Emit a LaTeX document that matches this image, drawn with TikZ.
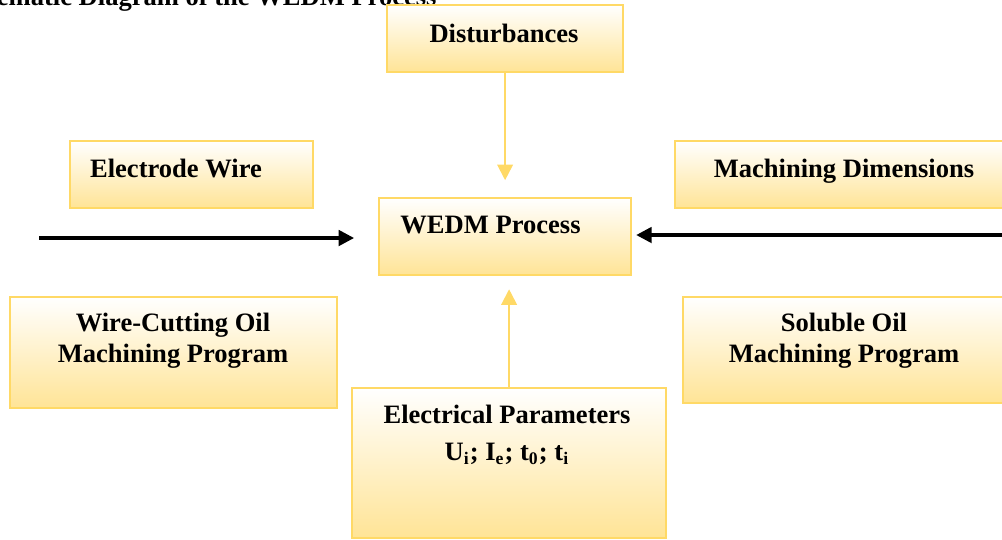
\documentclass[tikz,border=0pt]{standalone}
\usepackage{fontspec}
\setmainfont{Liberation Serif}
\usetikzlibrary{arrows.meta}
\definecolor{boxline}{RGB}{255,217,102}
\definecolor{boxfill}{RGB}{255,228,150}

\begin{document}
\begin{tikzpicture}[x=0.452pt, y=-0.452pt,
        box/.style={draw=boxline, line width=1pt, top color=white, bottom color=boxfill, anchor=north west, inner sep=0pt},
        txt/.style={font=\fontsize{12}{14}\selectfont\bfseries, align=center, inner sep=0pt},
        feed/.style={-{Triangle[length=7pt,width=7pt]}, line width=1.5pt},
        ylink/.style={draw=boxline, line width=0.9pt, -{Triangle[length=7pt,width=7pt,fill=boxline]}}]
        \useasboundingbox (0,0) rectangle (1002,539);

        % Title (cut at the top edge)
        \node[txt, anchor=base east] (title) at (437,5) {Schematic Diagram of the WEDM Process};

        % Boxes
        \node[box, minimum width=236*0.452pt, minimum height=67*0.452pt] (dist) at (386,4) {};
        \node[box, minimum width=252*0.452pt, minimum height=77*0.452pt] (proc) at (378,197) {};
        \node[box, minimum width=243*0.452pt, minimum height=67*0.452pt] (wire) at (69,140) {};
        \node[box, minimum width=336*0.452pt, minimum height=67*0.452pt] (dims) at (674,140) {};
        \node[box, minimum width=327*0.452pt, minimum height=111*0.452pt] (oil) at (9,296) {};
        \node[box, minimum width=324*0.452pt, minimum height=106*0.452pt] (sol) at (682,296) {};
        \node[box, minimum width=314*0.452pt, minimum height=150*0.452pt] (elec) at (351,387) {};

        % Texts
        \node[txt, anchor=base] (disttext) at (504,42) {Disturbances};
        \node[txt, anchor=base west] (proctext) at (400,233) {WEDM Process};
        \node[txt, anchor=base] (wiretext) at (176,177) {Electrode Wire};
        \node[txt, anchor=base] (dimstext) at (844,177) {Machining Dimensions};
        \node[txt] (oiltext) at (173,341) {Wire-Cutting Oil\\Machining Program};
        \node[txt] (soltext) at (844,341) {Soluble Oil\\Machining Program};
        \node[txt] (electext) at (507,435) {Electrical Parameters\\[2.5pt]U\textsubscript{i}; I\textsubscript{e}; t\textsubscript{0}; t\textsubscript{i}};

        % Inputs
        \coordinate (wirein) at (39,238);
        \coordinate (dimsin) at (1012,235);
        \draw[feed, shorten >=10.8pt] (wirein) -- (wirein -| proc.west);
        \draw[feed, shorten >=1.8pt] (dimsin) -- (dimsin -| proc.east);

        % Disturbances and parameters
        \draw[ylink, shorten >=7.6pt] (dist.south) -- (dist.south |- proc.north);
        \draw[ylink, shorten >=5.9pt] (elec.north) -- (elec.north |- proc.south);
    \end{tikzpicture}
\end{document}
